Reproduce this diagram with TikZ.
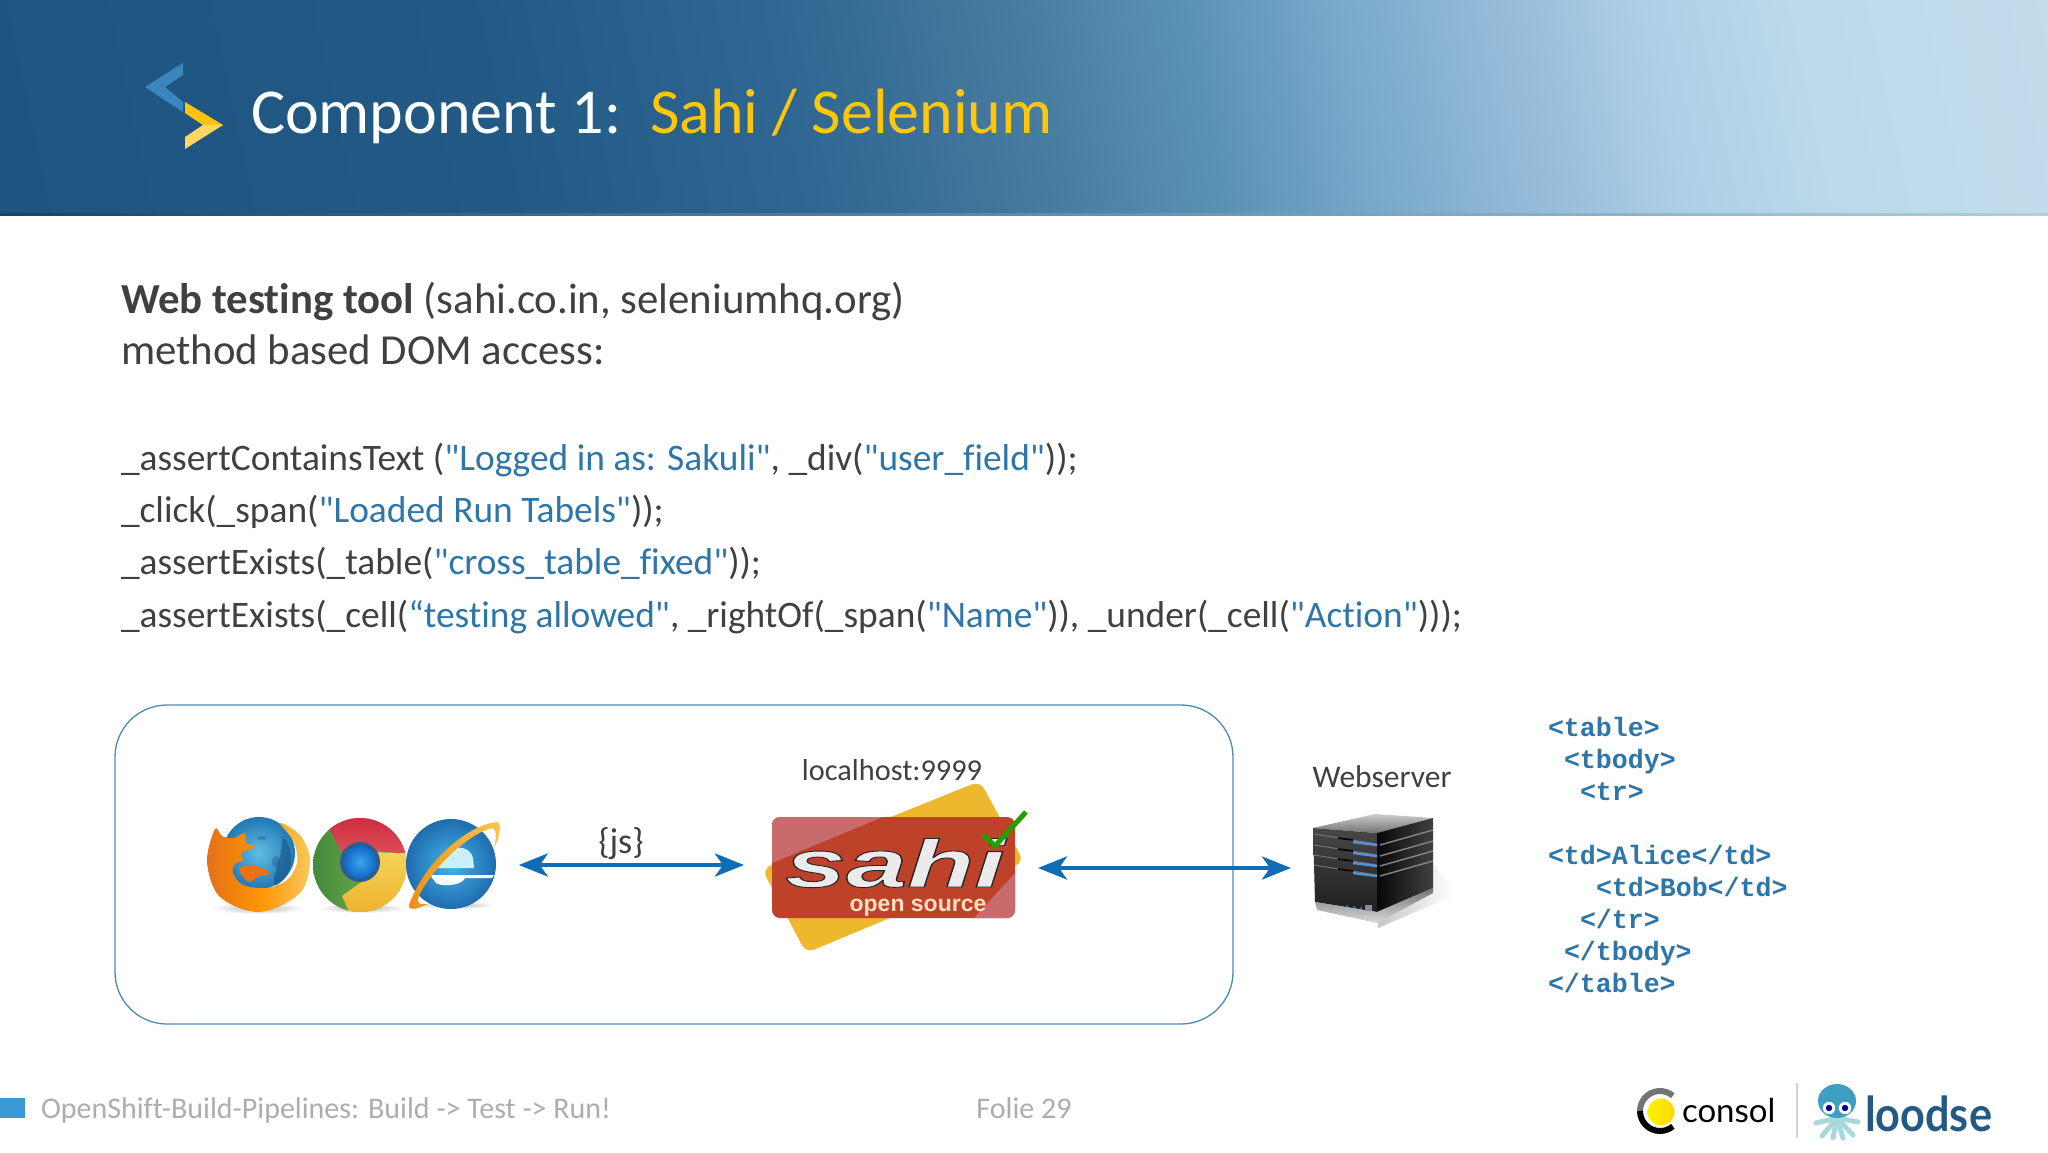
\documentclass[tikz,border=0pt]{standalone}
\usepackage{fontspec}
\newfontfamily\carlito[Ligatures=NoCommon]{Carlito}
\newfontfamily\htmlfont{Liberation Mono}
\newfontfamily\brandfont{Lato}
\newfontfamily\sahifont{Liberation Sans}
\usetikzlibrary{arrows.meta,shapes.geometric}
\definecolor{hA}{HTML}{1E5580}\definecolor{hB}{HTML}{225A85}\definecolor{hC}{HTML}{2E6792}
\definecolor{hD}{HTML}{44789E}\definecolor{hE}{HTML}{5A92B4}\definecolor{hF}{HTML}{78A9CB}
\definecolor{hG}{HTML}{94BAD8}\definecolor{hH}{HTML}{AECFE6}\definecolor{hI}{HTML}{BBD9EA}\definecolor{hJ}{HTML}{C4DCEC}
\pgfdeclarehorizontalshading{hdr}{100bp}{color(0bp)=(hA);color(29bp)=(hA);color(39bp)=(hB);color(45bp)=(hC);color(49bp)=(hD);color(53bp)=(hE);color(56bp)=(hF);color(59bp)=(hG);color(62bp)=(hH);color(65bp)=(hI);color(70bp)=(hJ);color(100bp)=(hJ)}
\definecolor{txt}{HTML}{404040}
\definecolor{lnk}{HTML}{2E75A8}
\definecolor{arr}{HTML}{0F6CB5}
\definecolor{ttlY}{HTML}{FFC60B}
\definecolor{chevB}{HTML}{3C86BE}
\definecolor{chevY}{HTML}{FFC20E}
\definecolor{chevL}{HTML}{FFD666}
\definecolor{cardY}{HTML}{EDB72E}
\definecolor{cardR}{HTML}{BD4229}
\definecolor{cardP}{HTML}{C96A6D}
\definecolor{footB}{HTML}{3B9AD6}
\definecolor{foxD}{HTML}{E2701C}
\definecolor{foxL}{HTML}{F9C85A}
\definecolor{tent}{HTML}{A8D8DC}
\definecolor{jelly}{HTML}{3F9FC0}
\definecolor{glA}{HTML}{62BEE4}\definecolor{glB}{HTML}{2278B4}\definecolor{glC}{HTML}{15507F}
\definecolor{crR}{HTML}{C9283A}\definecolor{crRl}{HTML}{E0505A}
\definecolor{crG}{HTML}{3F8A3A}\definecolor{crGl}{HTML}{86B45A}
\definecolor{crY}{HTML}{F6D35A}\definecolor{crYd}{HTML}{EDB02A}
\definecolor{crN}{HTML}{2E5F86}\definecolor{crBa}{HTML}{3CA6EA}\definecolor{crBb}{HTML}{1266C8}
\definecolor{ieA}{HTML}{45B4E8}\definecolor{ieB}{HTML}{1F6CAE}
\definecolor{ieO}{HTML}{EE8F1A}\definecolor{ieL}{HTML}{F7C94A}
\tikzset{
 x=1pt,y=-1pt,
 every node/.style={inner sep=0pt,outer sep=0pt},
 title/.style={anchor=base west,font=\carlito\fontsize{64}{66}\selectfont},
 body/.style={anchor=base west,text=txt,font=\carlito\fontsize{42.8}{44}\selectfont},
 code/.style={anchor=base west,text=txt,font=\carlito\fontsize{37.4}{40}\selectfont},
 lab/.style={anchor=base,text=txt,font=\carlito\fontsize{30.3}{32}\selectfont},
 html/.style={anchor=base west,text=lnk,font=\htmlfont\bfseries\fontsize{26.6}{32}\selectfont},
 foot/.style={anchor=base west,text=black!32,font=\carlito\fontsize{30}{32}\selectfont},
 biarrow/.style={line width=4.5pt,draw=arr,{Stealth[length=29pt,width=23pt,inset=8pt]}-{Stealth[length=29pt,width=23pt,inset=8pt]}},
 holder/.style={rectangle,minimum height=80pt},
 softshadow/.style={inner color=black!28,outer color=white},
}
\newcommand{\lk}[1]{\textcolor{lnk}{#1}}
\begin{document}
\begin{tikzpicture}
\useasboundingbox (0,0) rectangle (2048,1152);
\fill[white] (0,0) rectangle (2048,1152);
% header
\begin{scope}
\clip (0,0) rectangle (2048,214);
\begin{scope}[transform canvas={rotate around={12:(1024,107)}}]
\shade[shading=hdr] (-200,-700) rectangle (2300,900);
\end{scope}
\end{scope}
\shade[left color=hA!80!black,right color=hH] (0,213) rectangle (2048,215);
% chevrons
\fill[chevB] (183,63)--(145,87)--(183,112)--(183,102)--(165,87)--(183,75)--cycle;
\fill[chevY] (185,102)--(223,125)--(203,125)--(185,113)--cycle;
\fill[chevL] (223,125)--(185,149)--(185,137)--(203,125)--cycle;
\node[title,text=white] (ttlA) at (251,133) {Component 1:};
\node[title,text=ttlY] (ttlB) at (650,133) {Sahi / Selenium};
% intro
\node[body] (l1) at (121,313) {\textbf{Web testing tool} (sahi.co.in, seleniumhq.org)};
\node[body] (l2) at (121,364) {method based DOM access:};
\node[code] (c1) at (121,470) {\_assertContainsText (\lk{"Logged in as: Sakuli"}, \_div(\lk{"user\_field"}));};
\node[code] (c2) at (121,522) {\_click(\_span(\lk{"Loaded Run Tabels"}));};
\node[code] (c3) at (121,574) {\_assertExists(\_table(\lk{"cross\_table\_fixed"}));};
\node[code] (c4) at (121,627) {\_assertExists(\_cell(\lk{“testing allowed"}, \_rightOf(\_span(\lk{"Name"})), \_under(\_cell(\lk{"Action"})));};
% panel
\draw[lnk!85!white,line width=1.3pt,rounded corners=52pt] (115,705) rectangle (1233,1024);
% holders
\node[holder,minimum width=313.6pt] (browsers) at (362,865) {};
\node[holder,minimum width=294pt] (sahi) at (891,868) {};
\node[holder,minimum width=168pt] (server) at (1375,868) {};
% firefox
\shade[softshadow] (258,908) ellipse (46 and 6);
\shade[inner color=glA,outer color=glB] (259,853) circle (36);
\fill[glC,opacity=.55] (282,836) .. controls (296,850) and (294,875) .. (276,886) .. controls (268,880) and (284,860) .. cycle;
\fill[glC,opacity=.35] (262,838) ellipse (5 and 2) (276,862) ellipse (4 and 6);
\shade[left color=foxD,right color=foxL,middle color=orange!85!yellow]
 plot[smooth cycle,tension=.55] coordinates {(215,829) (222,836) (233,838) (245,833) (246,843) (255,847) (241,853) (243,860) (235,864) (233,873) (243,885) (267,888) (287,880) (297,863) (294,842) (280,823) (300,835) (310,860) (300,893) (260,912) (220,897) (207,862)};
\fill[foxD!80!orange] plot[smooth cycle,tension=.6] coordinates {(240,868) (255,866) (270,873) (257,877) (250,882) (243,877)};
% chrome
\shade[softshadow] (362,908) ellipse (44 and 5);
\begin{scope}
\clip (360,865) circle (47);
\shade[left color=crG,right color=crGl] (312,815) rectangle (400,915);
\shade[top color=crR,bottom color=crRl] (322,815)--(345,858)--(360,850)--(412,854)--(412,810)--(322,810)--cycle;
\shade[top color=crY,bottom color=crYd] (412,854)--(372,852)--(378,870)--(342,896)--(352,918)--(412,918)--cycle;
\end{scope}
\fill[crN] (360,862) circle (20);
\shade[inner color=crBa,outer color=crBb] (360,862) circle (16.5);
% ie
\shade[softshadow] (455,905) ellipse (40 and 4);
\shade[inner color=ieA,outer color=ieB] (451,864) circle (45);
\fill[white!80!cyan] (447,852) .. controls (455,845) and (470,846) .. (473,858) -- (474,868) -- (434,868) .. controls (436,860) and (441,856) .. cycle;
\fill[white] (430,875) -- (494,875) -- (492,878) -- (465,878) .. controls (463,884) and (445,888) .. (436,883) -- cycle;
\shade[left color=ieO,right color=ieL]
 (497,822) .. controls (470,824) and (425,860) .. (409,905)
 .. controls (408,912) and (420,908) .. (428,904) -- (420,904)
 .. controls (418,903) and (417,900) .. (419,896)
 .. controls (432,868) and (470,832) .. (493,828)
 .. controls (497,830) and (496,840) .. (494,848)
 .. controls (500,838) and (502,822) .. (497,822) -- cycle;
% sahi card
\fill[rounded corners=9pt,fill=cardY] (980,781)--(1024,862)--(806,953)--(762,869)--cycle;
\fill[rounded corners=8pt,fill=cardR] (772,817) rectangle (1015,918);
\begin{scope}
\clip[rounded corners=8pt] (772,817) rectangle (1015,918);
\fill[cardP] (772,817)--(883,817)--(772,863)--cycle;
\fill[cardP] (1016,872)--(1016,919)--(973,919)--cycle;
\end{scope}
\node[text=black!8,font=\sahifont\bfseries\itshape\fontsize{67}{67}\selectfont,xscale=1.64,anchor=base] (sahiT) at (895,887) {\special{pdf:code q 2 Tr 0.9 w 0.15 G}sahi\special{pdf:code Q 0 Tr}};
\node[text=orange!25!white,font=\sahifont\bfseries\fontsize{23}{24}\selectfont,anchor=base] (opensrc) at (918,911) {open source};
\draw[line width=5pt,draw=green!55!black!85!yellow] (983,835)--(995,846)--(1026,812);
% server
\shade[left color=black!22,right color=white] (1380,870)--(1435,865)--(1455,895)--(1378,928)--cycle;
\shade[top color=black!20,bottom color=black!55] (1313,828)--(1375,814)--(1433,818)--(1377,833)--cycle;
\shade[top color=black!72,bottom color=black!88] (1313,828)--(1377,833)--(1377,912)--(1315,902)--cycle;
\shade[left color=black!97,right color=black!75] (1377,833)--(1433,818)--(1433,888)--(1377,912)--cycle;
\shade[top color=black!55,bottom color=black!15] (1315,902)--(1377,912)--(1433,888)--(1433,893)--(1377,923)--(1317,910)--cycle;
\foreach \y in {842,853,863,873}{
 \draw[black!55,line width=1pt] (1314,\y-8) -- (1377,\y+2);
 \draw[black,line width=1.6pt] (1338,\y-4) -- (1353,\y-2);
 \draw[black!48,line width=1.4pt] (1380,\y+3) -- (1433,\y-12);
 \fill[cyan!55!blue!70] (1353,\y-1.2) -- (1377,\y+1.8) -- (1377,\y+4.3) -- (1353,\y+1.2) -- cycle;
}
\fill[cyan!50!blue] (1347,906) circle (1.3) (1354,907) circle (1.3) (1361,908) circle (1.3);
\fill[black!45] (1365,905) rectangle (1372,911);
\node[lab] (localhost) at (892,780) {localhost:9999};
\node[lab,font=\carlito\fontsize{31.5}{32}\selectfont] (webserver) at (1382,787) {Webserver};
\node[lab,font=\carlito\fontsize{36}{36}\selectfont] (js) at (621,853) {\{js\}};
% arrows
\draw[biarrow] (browsers.east) -- (browsers.east -| sahi.west);
\draw[biarrow] (sahi.east) -- (server.west);
% html
\node[html] (h1) at (1548,736) {<table>};
\node[html] (h2) at (1564,768) {<tbody>};
\node[html] (h3) at (1580,800) {<tr>};
\node[html] (h4) at (1548,864) {<td>Alice</td>};
\node[html] (h5) at (1596,896) {<td>Bob</td>};
\node[html] (h6) at (1580,928) {</tr>};
\node[html] (h7) at (1564,960) {</tbody>};
\node[html] (h8) at (1548,992) {</table>};
% footer
\fill[footB] (0,1098) rectangle (25,1118);
\node[foot] (ft) at (41,1118) {OpenShift-Build-Pipelines: Build -> Test -> Run!};
\node[foot,anchor=base] (folie) at (1024,1118) {Folie 29};
% consol
\shade[left color=yellow!90!orange,right color=yellow!70!orange] (1661,1112) circle (13.5);
\draw[black!55,line width=6pt] (1660,1111) ++(-50:20 and 20) arc (-50:-180:20 and 20);
\draw[black,line width=6pt] (1640,1111) arc (180:50:20 and 20);
\node[anchor=base west,text=black,font=\brandfont\fontsize{33}{34}\selectfont] (consol) at (1682,1122) {consol};
\draw[black!18,line width=1.5pt] (1797,1083) -- (1797,1138);
% loodse
\foreach \tx/\ty in {1816/1123,1822/1136,1833/1138,1843/1138,1853/1135,1858/1122}{
 \draw[tent,line width=5pt,line cap=round] (1837,1118) -- (\tx,\ty);
}
\fill[jelly] (1837,1101) ellipse (19 and 17);
\fill[white] (1829,1108) circle (6.2) (1845,1108) circle (6.2);
\fill[blue!60!black] (1829,1108) circle (3.2) (1845,1108) circle (3.2);
\node[anchor=base west,text=hB,font=\brandfont\bfseries\fontsize{48}{48}\selectfont] (loodse) at (1865,1131) {\scalebox{.9}[1]{loodse}};
\end{tikzpicture}
\end{document}
